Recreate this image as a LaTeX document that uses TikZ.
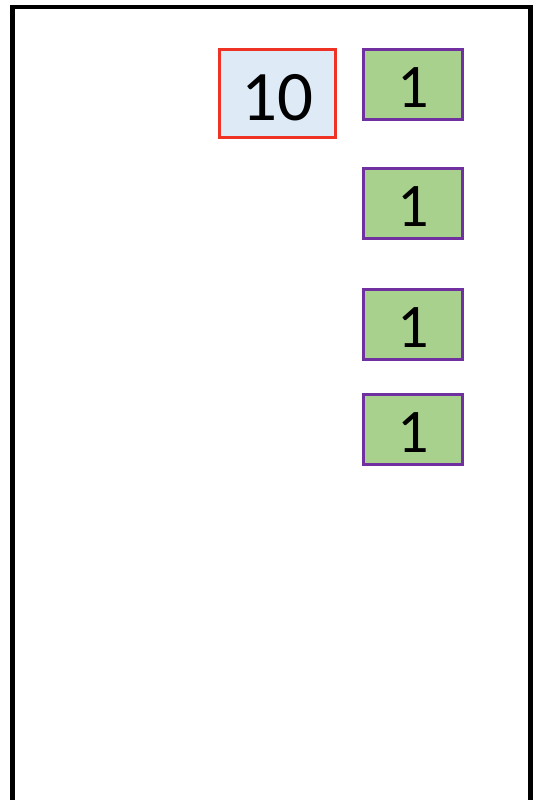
\documentclass[tikz,border=0pt]{standalone}
\usepackage{fontspec}
\setmainfont{Carlito}
\usepackage{xcolor}
\usepackage{tikz}
\usetikzlibrary{positioning}

\definecolor{tenred}{RGB}{238,50,36}
\definecolor{tenfill}{RGB}{222,235,247}
\definecolor{onepurple}{RGB}{112,48,160}
\definecolor{onefill}{RGB}{169,209,142}

\tikzset{
	tenbox/.style={draw=tenred, fill=tenfill, line width=3.3pt, inner sep=0pt, minimum width=116pt, minimum height=88pt, text height=54pt, text depth=0pt, font=\fontsize{71}{71}\selectfont},
	onebox/.style={draw=onepurple, fill=onefill, line width=3pt, inner sep=0pt, minimum width=99pt, minimum height=70pt, text height=45pt, text depth=0pt, font=\fontsize{62}{62}\selectfont}
}

\begin{document}
\begin{tikzpicture}[x=1pt, y=-1pt, node distance=46pt]
		\useasboundingbox (0,0) rectangle (537,800);
		
		% frame, open at the bottom
		\coordinate (frame bl) at (12.5,800);
		\coordinate (frame br) at (530.5,800);
		\draw[line width=4.5pt] (frame bl)--(frame bl|-0,7)--(frame br|-0,7)--(frame br);
		
		\node[onebox] at (413,84.5) (one 1) {1};
		\node[onebox, below=of one 1] (one 2) {1};
		\node[onebox, below=48pt of one 2] (one 3) {1};
		\node[onebox, below=32pt of one 3] (one 4) {1};
		
		\node[tenbox] at (277.5,93.5) (ten) {10};
	\end{tikzpicture}
\end{document}
